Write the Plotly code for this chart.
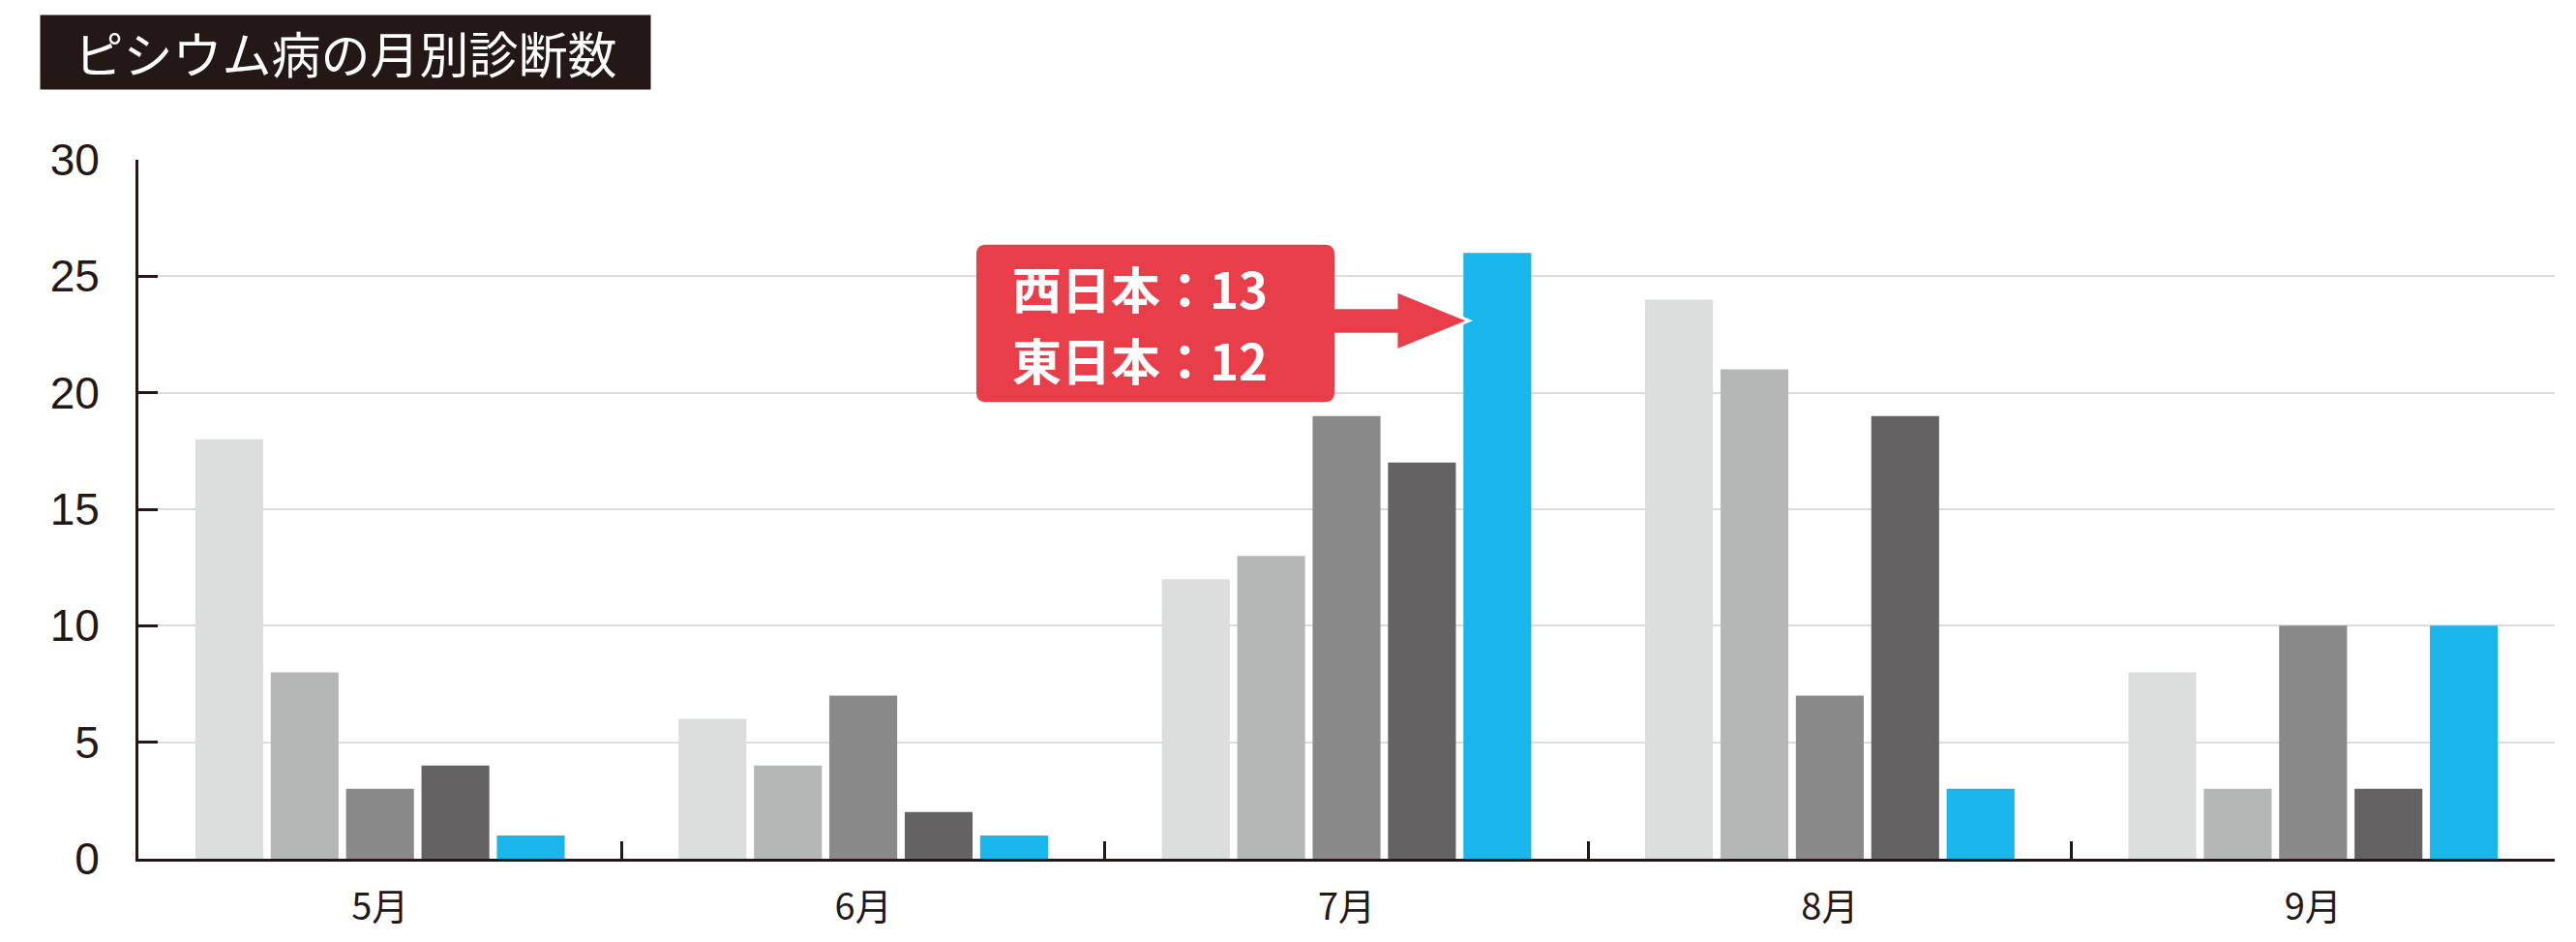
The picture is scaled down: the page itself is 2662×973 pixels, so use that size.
import plotly.graph_objects as go

# data
months = ['5月', '6月', '7月', '8月', '9月']
series_1 = [18, 6, 12, 24, 8]
series_2 = [8, 4, 13, 21, 3]
series_3 = [3, 7, 19, 7, 10]
series_4 = [4, 2, 17, 19, 3]
series_5 = [1, 1, 26, 3, 10]
colors = ['#dcdddd', '#b5b6b6', '#898989', '#656263', '#19b6eb']
y_ticks = [0, 5, 10, 15, 20, 25, 30]
title_text = 'ピシウム病の月別診断数'
callout_lines = ['西日本：13', '東日本：12']

INK = '#231815'
RED = '#e83e4a'
BARGAP = 0.22
GROUPGAP = 0.1

fig = go.Figure()
for vals, col in zip([series_1, series_2, series_3, series_4, series_5], colors):
    fig.add_trace(go.Bar(x=months, y=vals, marker=dict(color=col, line=dict(width=0)),
                         hoverinfo='x+y'))

# page body has an 8px margin, so the figure is a bit smaller than the window
fig.update_layout(
    width=2654, height=965,
    margin=dict(l=135, r=22, t=157, b=83),
    paper_bgcolor='white', plot_bgcolor='white',
    barmode='group', bargap=BARGAP, bargroupgap=GROUPGAP,
    showlegend=False,
    font=dict(family='Liberation Sans, Noto Sans CJK JP', color=INK),
)
fig.update_yaxes(range=[0, 30], tickvals=y_ticks, showgrid=True, gridcolor='#dcdcdc', gridwidth=2,
                 zeroline=False, showline=True, linecolor=INK, linewidth=3,
                 ticks='inside', ticklen=20, tickwidth=3, tickcolor=INK,
                 tickfont=dict(size=46, family='Liberation Sans', color=INK), ticklabelstandoff=28)
fig.update_xaxes(showline=True, linecolor=INK, linewidth=3, showgrid=False,
                 ticks='inside', tickson='boundaries', ticklen=18, tickwidth=3, tickcolor=INK,
                 tickfont=dict(size=38, family='Noto Sans CJK JP', color=INK), ticklabelstandoff=14)

# title box
fig.add_annotation(text=title_text, xref='paper', yref='paper', x=-0.0408, y=1.2083,
                   xanchor='left', yanchor='top', showarrow=False, width=630, height=76,
                   bgcolor=INK, borderpad=0, align='center',
                   font=dict(size=51, color='white', family='Noto Sans CJK JP'))

# callout box + arrow pointing at the July blue bar
def px(i):
    # category index -> paper x
    return (i + 0.5) / len(months)

slot = (1 - BARGAP) / 5
tip_x = 2 - (1 - BARGAP) / 2 + 4 * slot + slot * GROUPGAP / 2 + 0.012
bx0, bx1 = 1.234, 1.975
by0, by1 = 19.6, 26.35
rx, ry = 0.02, 0.41
box = (f'M {px(bx0 + rx)},{by1} L {px(bx1 - rx)},{by1} Q {px(bx1)},{by1} {px(bx1)},{by1 - ry} '
       f'L {px(bx1)},{by0 + ry} Q {px(bx1)},{by0} {px(bx1 - rx)},{by0} '
       f'L {px(bx0 + rx)},{by0} Q {px(bx0)},{by0} {px(bx0)},{by0 + ry} '
       f'L {px(bx0)},{by1 - ry} Q {px(bx0)},{by1} {px(bx0 + rx)},{by1} Z')

head_x = 2.103
arrow = (f'M {px(bx1 - 0.01)},23.65 L {px(head_x)},23.65 L {px(head_x)},24.37 '
         f'L {px(tip_x)},23.09 L {px(head_x)},21.81 L {px(head_x)},22.51 L {px(bx1 - 0.01)},22.51 Z')
fig.add_shape(type='path', path=arrow, xref='paper', yref='y', fillcolor=RED,
              line=dict(color='white', width=3), layer='above')
fig.add_shape(type='path', path=box, xref='paper', yref='y', fillcolor=RED, line=dict(width=0), layer='above')

for line, ly in zip(callout_lines, [24.5, 21.42]):
    fig.add_annotation(text=line, xref='paper', yref='y', x=px(1.305), y=ly,
                       xanchor='left', yanchor='middle', showarrow=False, align='left',
                       font=dict(size=51, color='white', family='Noto Sans CJK JP', weight='bold'))

fig.write_html('out.html')
